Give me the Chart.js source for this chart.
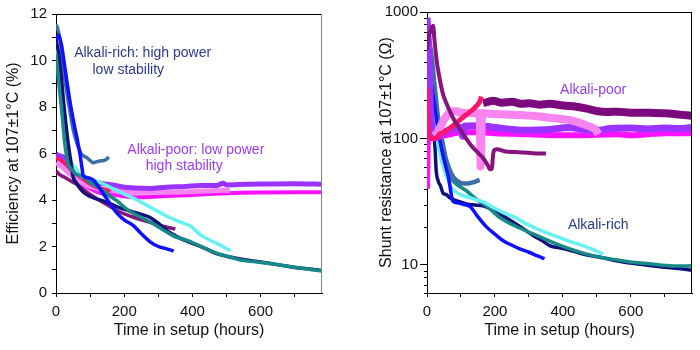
<!DOCTYPE html>
<html>
<head>
<meta charset="utf-8">
<title>Efficiency and shunt resistance at 107±1°C</title>
<script src="https://cdn.jsdelivr.net/npm/chart.js@4.4.1/dist/chart.umd.min.js"></script>
<style>
    html, body { margin: 0; padding: 0; background: #fff; }
    #wrap { position: relative; width: 700px; height: 350px; }
    #wrap canvas { position: absolute; top: 0; }
    #effChart { left: 0; }
    #rshChart { left: 350px; }
</style>
</head>
<body>
<div id="wrap">
    <canvas id="effChart" width="350" height="350"></canvas>
    <canvas id="rshChart" width="350" height="350"></canvas>
</div>
<script>
// ---- Efficiency (%) vs time (hours), left panel ----
var effBlue = [[0,10.9],[7,11.1],[12,10.9],[17,10.6],[24,9.9],[31,9.2],[38,8.5],[46,7.8],[54,7.2],[61,6.7],[70,6.0],[76,5.4],[80,5.05],[97,4.95],[110,4.85],[126,4.55],[149,4.05],[178,3.45],[200,3.15],[227,2.9],[250,2.55],[276,2.2],[300,2.0],[320,1.92],[345,1.8]];
var effTeal = [[0,10.3],[7,9.2],[17,7.8],[26,6.4],[36,5.55],[41,5.4],[55,5.15],[79,5.0],[100,4.75],[129,4.5],[155,4.2],[180,3.95],[208,3.6],[240,3.32],[276,3.05],[310,2.75],[345,2.45],[380,2.28],[403,2.15],[440,1.9],[473,1.7],[510,1.55],[541,1.42],[580,1.35],[620,1.28],[670,1.17],[718,1.07],[750,1.0],[778,0.96]];
var effNavy = [[0,10.9],[8,10.3],[15,9.4],[21,8.4],[28,7.4],[36,6.4],[44,5.6],[50,5.0],[59,4.75],[79,4.35],[100,4.15],[129,4.0],[150,3.9],[178,3.72],[200,3.6],[227,3.48],[250,3.38],[276,3.25],[300,3.0],[320,2.75],[345,2.5],[380,2.25],[414,2.06],[440,1.9],[473,1.68],[510,1.55],[560,1.42],[600,1.33],[650,1.22],[700,1.1],[750,1.02],[778,0.97]];
var effCyan = [[0,10.7],[6,10.0],[12,9.2],[21,7.8],[31,6.7],[41,5.8],[50,5.5],[61,5.3],[70,5.05],[90,4.95],[110,4.85],[130,4.75],[159,4.55],[200,4.25],[227,4.08],[250,3.9],[276,3.7],[300,3.5],[325,3.3],[365,3.05],[394,2.88],[424,2.5],[450,2.28],[480,2.07],[512,1.82]];
var effSteel = [[0,11.3],[2,11.5],[6,11.3],[12,10.9],[19,10.1],[26,9.2],[33,8.5],[41,7.8],[48,7.2],[56,6.7],[65,6.3],[75,5.97],[90,5.82],[100,5.7],[110,5.6],[120,5.65],[129,5.68],[140,5.7],[148,5.75],[155,5.85]];
var effPlum = [[0,5.25],[10,5.1],[29,4.95],[45,4.8],[61,4.68],[90,4.35],[120,4.05],[150,3.8],[178,3.55],[210,3.35],[250,3.15],[290,2.98],[320,2.85],[350,2.75]];
var effCrimson = [[0,5.8],[10,5.75],[25,5.6],[45,5.3],[70,5.0],[100,4.7],[130,4.5],[160,4.4]];
var effViolet = [[0,5.97],[10,5.9],[29,5.8],[50,5.4],[70,5.05],[98,4.83],[130,4.72],[167,4.65],[200,4.55],[227,4.52],[276,4.5],[325,4.55],[380,4.58],[424,4.62],[470,4.62],[490,4.72],[500,4.65],[560,4.68],[620,4.69],[700,4.7],[778,4.68]];
var effPink = [[0,5.6],[20,5.4],[50,5.0],[80,4.7],[120,4.5],[180,4.38],[227,4.33],[300,4.33],[400,4.36],[460,4.4],[490,4.42],[510,4.4]];
var effMagenta = [[0,5.9],[15,5.7],[35,5.4],[60,4.9],[98,4.5],[130,4.3],[180,4.2],[227,4.12],[300,4.15],[400,4.22],[520,4.3],[600,4.32],[700,4.33],[778,4.33]];

// ---- Shunt resistance (ohm) vs time (hours), right panel ----
var rshPlum = [[0,500],[5,650],[10,700],[18,780],[22,600],[28,420],[35,320],[47,225],[57,190],[67,165],[80,140],[96,120],[115,100],[130,88],[150,77],[165,70],[178,62],[186,57],[191,58],[194,72],[197,80],[205,82],[230,79],[260,78],[300,77],[330,76],[350,76]];
var rshCrimson = [[0,250],[3,140],[6,105],[15,100],[30,102],[37,108],[50,112],[70,122],[90,135],[110,150],[130,165],[145,180],[155,195],[160,215]];
var rshPink = [[20,105],[30,110],[40,125],[50,140],[66,160],[80,165],[100,160],[130,158],[155,158],[158,60],[162,158],[200,156],[250,154],[300,152],[361,146],[400,142],[430,138],[459,130],[480,124],[495,118],[505,108]];
var rshViolet = [[0,900],[3,650],[6,350],[10,180],[15,115],[20,105],[30,104],[45,110],[70,118],[97,122],[106,104],[110,125],[150,126],[200,122],[250,118],[300,116],[350,117],[420,122],[460,118],[500,116],[540,120],[600,121],[650,119],[700,121],[740,120],[778,122]];
var rshMagenta = [[0,40],[2,85],[4,130],[7,115],[12,102],[20,100],[40,104],[70,108],[100,112],[150,112],[200,110],[300,108],[400,106],[500,107],[560,108],[600,106],[650,108],[700,110],[778,110]];
var rshPurple = [[165,190],[180,195],[195,199],[220,192],[250,195],[280,188],[300,190],[330,185],[361,188],[400,182],[440,178],[470,172],[498,165],[530,162],[560,163],[600,160],[655,160],[700,158],[740,155],[778,151]];
var rshBlue = [[0,400],[5,360],[10,300],[20,200],[30,130],[40,90],[50,68],[58,56],[64,48],[70,38],[76,32],[90,31],[110,30],[126,29],[150,24],[175,20],[200,17.5],[223,15.6],[250,14.3],[273,13.4],[300,12.6],[325,11.8],[346,11.2]];
var rshSteel = [[0,700],[5,650],[10,520],[15,410],[20,300],[25,224],[32,150],[38,122],[45,95],[55,70],[65,58],[76,50],[90,46],[105,44],[120,44],[135,45],[155,47]];
var rshCyan = [[0,300],[10,230],[20,150],[30,100],[40,72],[50,57],[60,48],[70,42],[86,37.5],[126,34],[165,31.5],[200,28],[223,26],[263,23.5],[290,21.3],[320,19.5],[361,17.6],[410,15.7],[459,14.2],[490,13.2],[518,12.2]];
var rshTeal = [[0,550],[8,420],[16,280],[24,170],[32,110],[40,80],[50,62],[60,53],[70,48],[86,43.6],[116,38.6],[140,34],[165,30.5],[190,27],[214,23.7],[260,20.3],[312,17.6],[360,15.5],[410,13.7],[460,12.4],[508,11.5],[557,11.0],[605,10.5],[655,10.2],[704,9.9],[740,9.8],[778,9.85]];
var rshNavy = [[0,480],[6,350],[12,230],[18,140],[24,80],[27,56],[33,46],[40,42],[47,37],[57,36],[67,34],[90,32],[116,30.3],[140,29.8],[165,29.4],[190,27.5],[214,25.3],[240,23],[263,21],[290,18.8],[312,17.1],[340,15.5],[361,14.2],[385,13.7],[410,13.3],[459,12.2],[510,11.5],[557,10.8],[605,10.3],[655,9.9],[700,9.6],[753,9.3],[778,9.1]];

// ---- ticks ----
var timeTicks = [0, 100, 200, 300, 400, 500, 600, 700];
var timeLabels = [0, 200, 400, 600];
var effTicks = [0, 1, 2, 3, 4, 5, 6, 7, 8, 9, 10, 11, 12];
var effLabels = [0, 2, 4, 6, 8, 10, 12];
var rshMajorTicks = [10, 100, 1000];
var rshMinorTicks = [6, 7, 8, 9, 20, 30, 40, 50, 60, 70, 80, 90, 200, 300, 400, 500, 600, 700, 800, 900];

(function () {
    'use strict';

    var FONT = '"Liberation Sans", Arial, sans-serif';
    Chart.defaults.font.family = FONT;
    Chart.defaults.color = '#111';

    var RICH = '#2c3a8e';
    var POOR = '#9a3cf2';

    function series(data, color, width) {
        return {
            data: data.map(function (p) { return { x: p[0], y: p[1] }; }),
            borderColor: color,
            backgroundColor: color,
            borderWidth: width,
            pointRadius: 0,
            cubicInterpolationMode: 'monotone',
            fill: false
        };
    }

    // Frame on top/right, short minor ticks, text notes
    var extrasPlugin = {
        id: 'extras',
        afterDatasetsDraw: function (chart, args, opts) {
            var ctx = chart.ctx, a = chart.chartArea;
            var xs = chart.scales.x, ys = chart.scales.y;
            ctx.save();
            ctx.lineWidth = 1;
            ctx.strokeStyle = '#000';
            ctx.beginPath();
            ctx.moveTo(a.left, a.top + 0.5);
            ctx.lineTo(a.right, a.top + 0.5);
            ctx.stroke();
            ctx.strokeStyle = opts.rightColor || '#000';
            ctx.beginPath();
            ctx.moveTo(a.right - 0.5, a.top);
            ctx.lineTo(a.right - 0.5, a.bottom);
            ctx.stroke();

            if (opts.minor) {
                ctx.strokeStyle = '#000';
                opts.minor.forEach(function (v) {
                    var y = Math.round(ys.getPixelForValue(v)) + 0.5;
                    ctx.beginPath();
                    ctx.moveTo(a.left - 3, y);
                    ctx.lineTo(a.left, y);
                    ctx.stroke();
                });
            }

            ctx.font = '14px ' + FONT;
            ctx.textAlign = 'center';
            ctx.textBaseline = 'middle';
            (opts.notes || []).forEach(function (n) {
                ctx.fillStyle = n.color;
                ctx.fillText(n.text, xs.getPixelForValue(n.x), ys.getPixelForValue(n.y));
            });
            ctx.restore();
        }
    };

    function timeAxis() {
        return {
            type: 'linear',
            min: 0,
            max: 780,
            afterBuildTicks: function (s) {
                s.ticks = timeTicks.map(function (v) { return { value: v }; });
            },
            afterFit: function (s) { s.height = 50; },
            ticks: {
                autoSkip: false,
                maxRotation: 0,
                padding: 6,
                font: { size: 15 },
                callback: function (v) { return timeLabels.indexOf(v) >= 0 ? String(v) : ''; }
            },
            grid: { drawOnChartArea: false, tickLength: 4, tickColor: '#000' },
            border: { color: '#000' },
            title: {
                display: true,
                text: 'Time in setup (hours)',
                font: { size: 16 },
                padding: { top: 2, bottom: 3 }
            }
        };
    }

    function baseOptions() {
        return {
            responsive: false,
            animation: false,
            devicePixelRatio: 1,
            events: [],
            plugins: { legend: { display: false }, tooltip: { enabled: false } }
        };
    }

    // Left panel: efficiency
    var effOpts = baseOptions();
    effOpts.layout = { padding: { left: 0, right: 28, top: 12, bottom: 7 } };
    effOpts.scales = {
        x: timeAxis(),
        y: {
            type: 'linear',
            min: 0,
            max: 12,
            afterBuildTicks: function (s) {
                s.ticks = effTicks.map(function (v) { return { value: v }; });
            },
            afterFit: function (s) { s.width = 56; },
            ticks: {
                autoSkip: false,
                padding: 5,
                font: { size: 15 },
                callback: function (v) { return effLabels.indexOf(v) >= 0 ? String(v) : ''; }
            },
            grid: { drawOnChartArea: false, tickLength: 4, tickColor: '#000' },
            border: { color: '#000' },
            title: {
                display: true,
                text: 'Efficiency at 107±1°C (%)',
                font: { size: 16 },
                padding: { top: 4, bottom: 0 }
            }
        }
    };
    effOpts.plugins.extras = {
        rightColor: '#6f8f7f',
        notes: [
            { text: 'Alkali-rich: high power', x: 254, y: 10.33, color: RICH },
            { text: 'low stability', x: 212, y: 9.6, color: RICH },
            { text: 'Alkali-poor: low power', x: 410, y: 6.15, color: POOR },
            { text: 'high stability', x: 376, y: 5.47, color: POOR }
        ]
    };

    new Chart(document.getElementById('effChart'), {
        type: 'line',
        data: {
            datasets: [
                series(effBlue, '#1010ff', 3.5),
                series(effTeal, '#178a88', 3.5),
                series(effNavy, '#10107a', 3.5),
                series(effCyan, '#66f2f2', 3.5),
                series(effSteel, '#3d6ea8', 3.5),
                series(effPlum, '#86137e', 3.5),
                series(effCrimson, '#ff1470', 4),
                series(effViolet, '#9b32ff', 5),
                series(effPink, '#f884f0', 5),
                series(effMagenta, '#ff10ff', 4)
            ]
        },
        options: effOpts,
        plugins: [extrasPlugin]
    });

    // Right panel: shunt resistance (log)
    var rshOpts = baseOptions();
    rshOpts.layout = { padding: { left: 0, right: 8, top: 12, bottom: 7 } };
    rshOpts.scales = {
        x: timeAxis(),
        y: {
            type: 'logarithmic',
            min: 6,
            max: 1000,
            afterBuildTicks: function (s) {
                s.ticks = rshMinorTicks.concat(rshMajorTicks)
                    .sort(function (a, b) { return a - b; })
                    .map(function (v) { return { value: v }; });
            },
            afterFit: function (s) { s.width = 77; },
            ticks: {
                autoSkip: false,
                padding: 2,
                font: { size: 15 },
                callback: function (v) { return rshMajorTicks.indexOf(v) >= 0 ? String(v) : ''; }
            },
            grid: {
                drawOnChartArea: false,
                tickLength: 7,
                tickColor: function (c) {
                    return c.tick && rshMajorTicks.indexOf(c.tick.value) >= 0 ? '#000' : 'rgba(0,0,0,0)';
                }
            },
            border: { color: '#000' },
            title: {
                display: true,
                text: 'Shunt resistance at 107±1°C (Ω)',
                font: { size: 16 },
                padding: { top: 27, bottom: 0 }
            }
        }
    };
    rshOpts.plugins.extras = {
        rightColor: '#000',
        minor: rshMinorTicks,
        notes: [
            { text: 'Alkali-poor', x: 489, y: 243, color: POOR },
            { text: 'Alkali-rich', x: 504, y: 20.8, color: RICH }
        ]
    };

    new Chart(document.getElementById('rshChart'), {
        type: 'line',
        data: {
            datasets: [
                series(rshPlum, '#86137e', 4),
                series(rshCrimson, '#ff1470', 5),
                series(rshPink, '#f884f0', 8),
                series(rshViolet, '#9b32ff', 7),
                series(rshMagenta, '#ff10ff', 6),
                series(rshPurple, '#7d0a7d', 8),
                series(rshBlue, '#1010ff', 3.5),
                series(rshSteel, '#3d6ea8', 4.5),
                series(rshCyan, '#66f2f2', 3.5),
                series(rshTeal, '#178a88', 3.5),
                series(rshNavy, '#10107a', 3.5)
            ]
        },
        options: rshOpts,
        plugins: [extrasPlugin]
    });
})();
</script>
</body>
</html>
